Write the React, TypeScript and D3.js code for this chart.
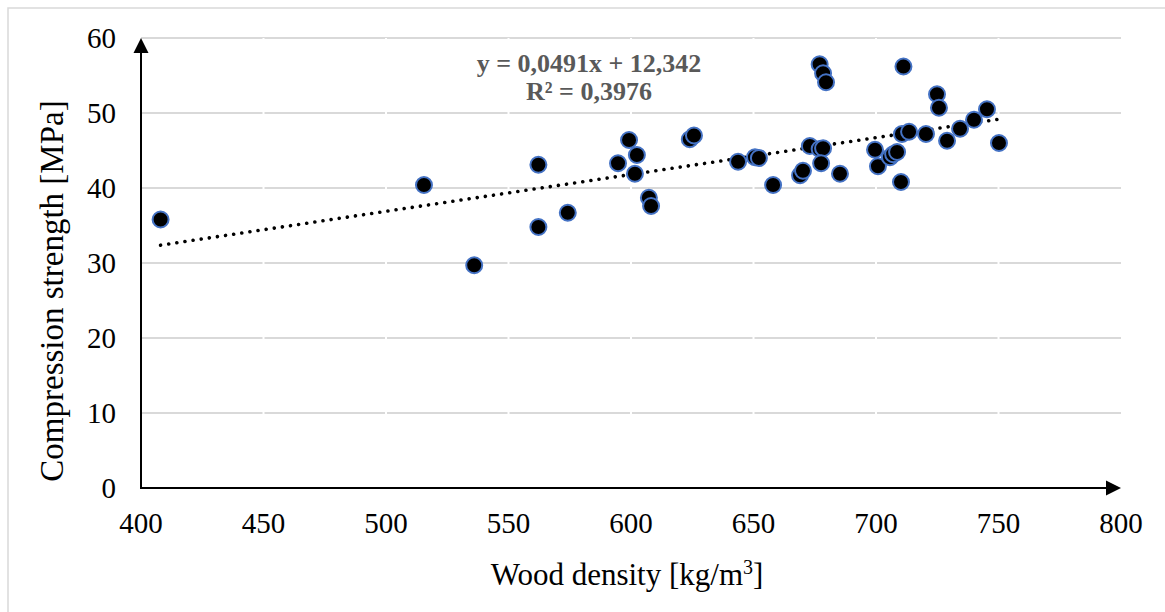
import React from 'react';
import * as d3 from 'd3';

// Wood density [kg/m3] and compression strength [MPa] of each specimen
const density = [
  408, 515.5, 536, 562.2, 562.2, 574.2, 594.7, 599.2, 602.4, 601.6,
  607.3, 608.2, 624, 625.7, 643.7, 650.6, 652.2, 658, 669, 670.2,
  673, 677, 678.4, 679.6, 677, 678.4, 677.6, 685.3, 699.6, 700.8,
  705.7, 707, 708.6, 710.2, 710.6, 713.5, 711.2, 724.9, 725.7, 720.4,
  729, 734.3, 740, 745.3, 750.2,
];
const strength = [
  35.8, 40.4, 29.7, 43.1, 34.8, 36.7, 43.3, 46.4, 44.4, 41.9,
  38.7, 37.6, 46.5, 47.0, 43.5, 44.1, 44.0, 40.4, 41.7, 42.3,
  45.6, 56.5, 55.3, 54.1, 45.2, 45.3, 43.3, 41.9, 45.1, 42.9,
  44.1, 44.5, 44.8, 40.8, 47.2, 47.5, 56.2, 52.5, 50.7, 47.2,
  46.3, 47.9, 49.1, 50.5, 46.0,
];

const xTicks = [400, 450, 500, 550, 600, 650, 700, 750, 800];
const yTicks = [0, 10, 20, 30, 40, 50, 60];

// Linear trend fitted in the spreadsheet
const slope = 0.0491;
const intercept = 12.342;
const rSquared = 0.3976;

const serif = '"Liberation Serif", "Times New Roman", serif';

const locale = d3.formatLocale({ decimal: ',', thousands: ' ', grouping: [3], currency: ['', ''] });
const fmt = (v: number) => locale.format('')(v);

export default function App() {
  const W = 1165;
  const H = 612;
  const x = d3.scaleLinear().domain([400, 800]).range([141, 1121]);
  const y = d3.scaleLinear().domain([0, 60]).range([488, 38]);

  const points = density.map((d, i) => ({ d, s: strength[i] }));
  const xMin = d3.min(density) as number;
  const xMax = d3.max(density) as number;
  const trend = d3.line<number>()
    .x((v) => x(v))
    .y((v) => y(slope * v + intercept))([xMin, xMax]) as string;

  const [x0, x1] = x.range();
  const [y0, y1] = y.range();
  const arrow = 15;

  return (
    <svg width={W} height={H} style={{ position: 'absolute', left: 0, top: 0, background: '#fff' }}>
      <rect x={0} y={0} width={W} height={H} fill="#fff" />
      <rect x={8} y={8} width={W} height={H} fill="none" stroke="#d9d9d9" strokeWidth={1.5} />

      {/* horizontal gridlines */}
      {yTicks.filter((t) => t > 0).map((t) => (
        <line key={'g' + t} x1={x0} x2={x1} y1={y(t)} y2={y(t)} stroke="#d9d9d9" strokeWidth={2} />
      ))}
      {/* white vertical gridlines breaking the horizontal ones */}
      {xTicks.filter((t) => t > 400 && t < 800).map((t) => (
        <line key={'v' + t} x1={x(t)} x2={x(t)} y1={y1} y2={y0} stroke="#fff" strokeWidth={2} />
      ))}

      {/* trendline */}
      <path d={trend} fill="none" stroke="#000" strokeWidth={3.6} strokeLinecap="round" strokeDasharray="0.01 8.2" />

      {/* axes with arrowheads */}
      <line x1={x0} x2={x0} y1={y0} y2={y1 + arrow} stroke="#000" strokeWidth={2} />
      <path d={`M${x0},${y1} L${x0 - 7.5},${y1 + arrow} L${x0 + 7.5},${y1 + arrow} Z`} fill="#000" />
      <line x1={x0 - 1} x2={x1 - arrow} y1={y0} y2={y0} stroke="#000" strokeWidth={2} />
      <path d={`M${x1},${y0} L${x1 - arrow},${y0 - 7.5} L${x1 - arrow},${y0 + 7.5} Z`} fill="#000" />

      {/* data points */}
      {points.map((p, i) => (
        <circle key={i} cx={x(p.d)} cy={y(p.s)} r={8} fill="#000" stroke="#4472C4" strokeWidth={2} />
      ))}

      {/* tick labels */}
      {yTicks.map((t) => (
        <text key={'yt' + t} x={116} y={y(t) + 9.8} textAnchor="end" fontFamily={serif} fontSize={29} fill="#000">{t}</text>
      ))}
      {xTicks.map((t) => (
        <text key={'xt' + t} x={x(t)} y={533} textAnchor="middle" fontFamily={serif} fontSize={29} fill="#000">{t}</text>
      ))}

      {/* axis titles */}
      <text x={627} y={585} textAnchor="middle" fontFamily={serif} fontSize={31} fill="#000">
        Wood density [kg/m<tspan dy={-11} fontSize={20}>3</tspan><tspan dy={11}>]</tspan>
      </text>
      <text transform="translate(63,291) rotate(-90)" textAnchor="middle" fontFamily={serif} fontSize={33} fill="#000">
        Compression strength [MPa]
      </text>

      {/* trendline equation */}
      <text x={589} y={71.5} textAnchor="middle" fontFamily={serif} fontWeight="bold" fontSize={26} fill="#595959">
        {`y = ${fmt(slope)}x + ${fmt(intercept)}`}
      </text>
      <text x={589} y={100} textAnchor="middle" fontFamily={serif} fontWeight="bold" fontSize={26} fill="#595959">
        {`R² = ${fmt(rSquared)}`}
      </text>
    </svg>
  );
}
